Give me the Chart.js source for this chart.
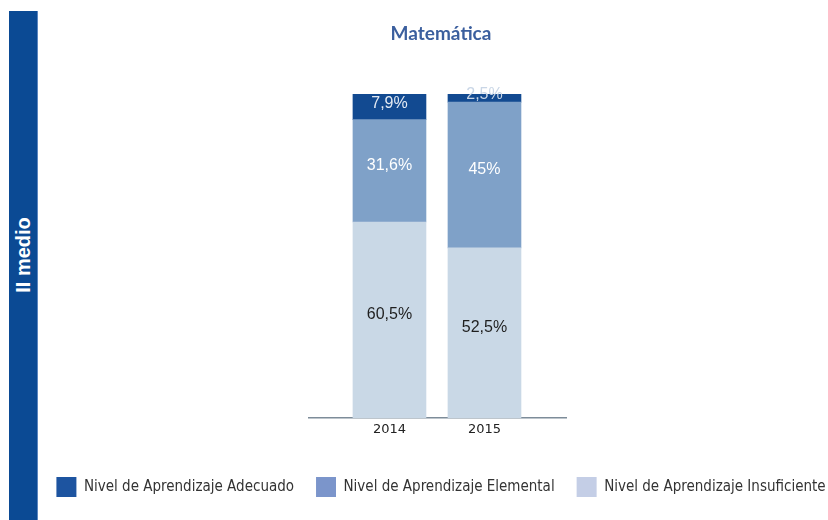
<!DOCTYPE html>
<html>
<head>
<meta charset="utf-8">
<script src="https://cdn.jsdelivr.net/npm/chart.js@4"></script>
<style>
  html, body { margin: 0; padding: 0; background: #ffffff; }
  #wrap { position: relative; width: 828px; height: 520px; overflow: hidden; }
  #side { position: absolute; left: 9px; top: 11px; width: 28px; height: 509px; background: #0b4a94; border-right: 1px solid #5c86c0; }
  #sideText { position: absolute; left: 23px; top: 255px; transform: translate(-50%, -50%) rotate(-90deg); color: #ffffff; font: bold 20px "Liberation Sans", Arial, sans-serif; white-space: nowrap; }
  canvas { position: absolute; left: 0; top: 0; }
</style>
</head>
<body>
<div id="wrap">
  <canvas id="c" width="882" height="520"></canvas>
  <div id="side"></div>
  <div id="sideText">II medio</div>
</div>
<script>
const titleText = 'Matemática';
const years = ['2014', '2015'];
const seriesNames = ['Nivel de Aprendizaje Adecuado', 'Nivel de Aprendizaje Elemental', 'Nivel de Aprendizaje Insuficiente'];
const adecuado = [7.9, 2.5];
const elemental = [31.6, 45];
const insuficiente = [60.5, 52.5];

const colors = ['#124a91', '#7fa1c8', '#c9d8e6'];
const legendColors = ['#1d54a0', '#7b95cb', '#c4cee6'];
const labelColors = [['#e3eaf3', '#c9d6e6'], ['#ffffff', '#ffffff'], ['#1f1f1f', '#1f1f1f']];

function toPoints(arr) { return arr.map((v, i) => ({ x: i, y: v })); }

const valueLabels = {
  id: 'valueLabels',
  afterDatasetsDraw(chart) {
    const ctx = chart.ctx;
    ctx.save();
    ctx.font = '16px "Liberation Sans", Arial, sans-serif';
    ctx.textAlign = 'center';
    ctx.textBaseline = 'middle';
    chart.data.datasets.forEach((ds, di) => {
      const meta = chart.getDatasetMeta(di);
      const k = ds.seriesIndex;
      meta.data.forEach((el, i) => {
        const v = ds.data[i].y;
        const txt = String(v).replace('.', ',') + '%';
        const cy = (el.y + el.base) / 2 - (k === 0 ? 3 : 5);
        ctx.fillStyle = labelColors[k][i];
        ctx.fillText(txt, el.x, cy);
      });
    });
    ctx.restore();
  }
};

// stacked bottom-to-top: insuficiente, elemental, adecuado
const datasets = [insuficiente, elemental, adecuado].map((arr, j) => {
  const k = 2 - j;
  return {
    label: seriesNames[k],
    seriesIndex: k,
    data: toPoints(arr),
    backgroundColor: colors[k],
    borderWidth: 0,
    barThickness: 73
  };
});

new Chart(document.getElementById('c'), {
  type: 'bar',
  data: { datasets },
  plugins: [valueLabels],
  options: {
    responsive: false,
    animation: false,
    layout: { padding: { left: 0, right: 0, top: 0, bottom: 13 } },
    plugins: {
      title: {
        display: true,
        text: titleText,
        color: '#3b5f9e',
        font: { family: 'Lato, "Open Sans", sans-serif', size: 19, weight: 'bold', lineHeight: 1 },
        padding: { top: 24.5, bottom: 50.5 }
      },
      legend: {
        position: 'bottom',
        reverse: true,
        labels: {
          boxWidth: 20,
          boxHeight: 20,
          padding: 22,
          color: '#333333',
          font: { family: '"Liberation Sans Narrow", "DejaVu Sans Condensed", sans-serif', size: 15 },
          generateLabels(chart) {
            const items = Chart.defaults.plugins.legend.labels.generateLabels(chart);
            items.forEach(it => {
              const k = chart.data.datasets[it.datasetIndex].seriesIndex;
              it.fillStyle = legendColors[k];
              it.strokeStyle = legendColors[k];
              it.lineWidth = 0;
            });
            return items;
          }
        }
      },
      tooltip: { enabled: false }
    },
    scales: {
      x: {
        type: 'linear',
        offset: false,
        stacked: true,
        min: -0.847,
        max: 1.858,
        grid: { display: false, drawTicks: false },
        border: { display: true, color: '#7d8c99', width: 1.5 },
        afterBuildTicks(scale) { scale.ticks = years.map((_, i) => ({ value: i })); },
        afterFit(scale) { scale.height = 37; },
        ticks: {
          padding: 4,
          color: '#222222',
          font: { family: '"DejaVu Sans", sans-serif', size: 13 },
          callback: (v) => years[v] ?? ''
        }
      },
      y: {
        stacked: true,
        min: 0,
        max: 100,
        position: 'left',
        grid: { display: false },
        border: { display: false },
        ticks: { display: false },
        afterFit(scale) { scale.width = 309; }
      },
      y2: {
        type: 'linear',
        position: 'right',
        grid: { display: false },
        border: { display: false },
        ticks: { display: false },
        afterFit(scale) { scale.width = 882 - 566; }
      }
    }
  }
});
</script>
</body>
</html>
